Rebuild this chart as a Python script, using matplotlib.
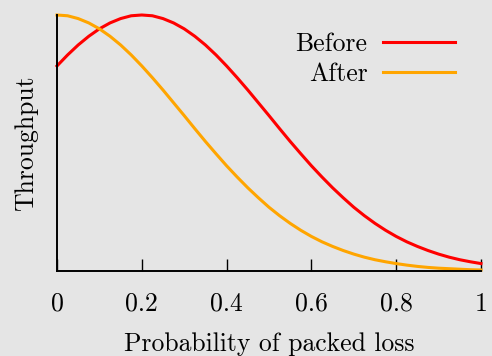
import matplotlib
matplotlib.use('Agg')
import matplotlib.pyplot as plt

# values, every 0.025
loss = [i / 40 for i in range(41)]
before = [0.801, 0.844, 0.883, 0.917, 0.946, 0.969, 0.986, 0.997, 1.0,
          0.997, 0.986, 0.969, 0.946, 0.917, 0.883, 0.844, 0.801,
          0.755, 0.707, 0.657, 0.607, 0.556, 0.506, 0.458, 0.411,
          0.367, 0.325, 0.286, 0.249, 0.216, 0.186, 0.159, 0.135,
          0.114, 0.096, 0.080, 0.066, 0.054, 0.044, 0.036, 0.029]
after = [1.0, 0.997, 0.986, 0.969, 0.946, 0.917, 0.883, 0.844, 0.801,
         0.755, 0.707, 0.657, 0.607, 0.556, 0.506, 0.458, 0.411,
         0.367, 0.325, 0.286, 0.249, 0.216, 0.186, 0.159, 0.135,
         0.114, 0.096, 0.080, 0.066, 0.054, 0.044, 0.036, 0.029,
         0.023, 0.018, 0.014, 0.011, 0.009, 0.007, 0.005, 0.004]
xticks = [0, 0.2, 0.4, 0.6, 0.8, 1]
xticklabels = ['0', '0.2', '0.4', '0.6', '0.8', '1']

plt.rcParams['font.family'] = ['cmr10', 'DejaVu Serif']
plt.rcParams['mathtext.fontset'] = 'cm'
plt.rcParams['axes.unicode_minus'] = False

bg = '#e5e5e5'
fig = plt.figure(figsize=(4.92, 3.56), dpi=100, facecolor=bg)
ax = fig.add_axes([57/492, 1 - 271/356, 424/492, 256/356])
ax.set_facecolor(bg)

ax.plot(loss, before, color='#ff0000', lw=2.2, label='Before', clip_on=False)
ax.plot(loss, after, color='#ffa500', lw=2.2, label='After', clip_on=False)

ax.set_xlim(0, 1)
ax.set_ylim(0, 1)
ax.set_xticks(xticks)
ax.set_xticklabels(xticklabels, fontsize=18.5)
ax.set_yticks([])
ax.tick_params(axis='x', direction='in', length=8.6, width=1.0, pad=15)
for s in ['top', 'right']:
    ax.spines[s].set_visible(False)
for s in ['left', 'bottom']:
    ax.spines[s].set_linewidth(1.4)

ax.set_xlabel('Probability of packed loss', fontsize=18.5, labelpad=12)
ax.set_ylabel('Throughput', fontsize=18.5, labelpad=14)

ax.legend(loc='upper right', bbox_to_anchor=(455/492, 1 - 32/356),
          bbox_transform=fig.transFigure, frameon=False, markerfirst=False,
          fontsize=18.5, handlelength=2.8, handletextpad=0.6,
          labelspacing=0.24, borderpad=0, borderaxespad=0)

fig.savefig('out.png', dpi=100, facecolor=bg)
